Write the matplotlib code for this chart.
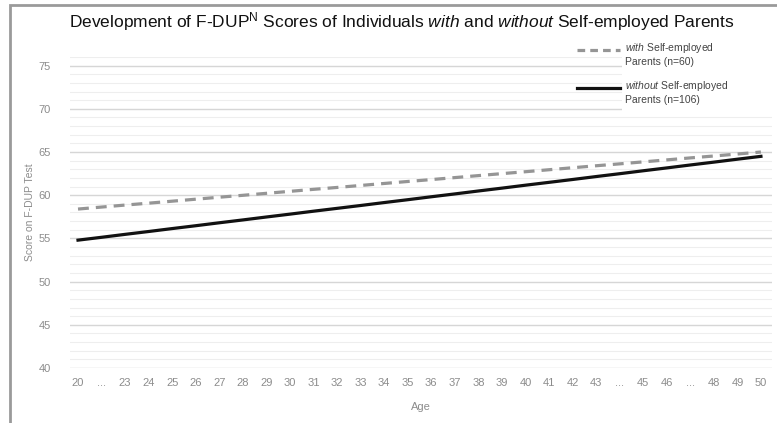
import matplotlib
matplotlib.use("Agg")
import matplotlib.pyplot as plt
from matplotlib.patches import Rectangle

plt.rcParams['font.family'] = ['Liberation Sans', 'DejaVu Sans']
plt.rcParams['mathtext.fontset'] = 'custom'
plt.rcParams['mathtext.rm'] = 'Liberation Sans'
plt.rcParams['mathtext.it'] = 'Liberation Sans:italic'

# Data
age_labels = ['20', '...', '23', '24', '25', '26', '27', '28', '29', '30', '31', '32',
              '33', '34', '35', '36', '37', '38', '39', '40', '41', '42', '43', '...',
              '45', '46', '...', '48', '49', '50']
with_scores = [58.40, 58.63, 58.86, 59.08, 59.31, 59.54, 59.77, 59.99, 60.22, 60.45,
               60.68, 60.90, 61.13, 61.36, 61.59, 61.81, 62.04, 62.27, 62.50, 62.72,
               62.95, 63.18, 63.41, 63.63, 63.86, 64.09, 64.32, 64.54, 64.77, 65.00]
without_scores = [54.80, 55.13, 55.47, 55.80, 56.14, 56.47, 56.81, 57.14, 57.48, 57.81,
                  58.15, 58.48, 58.81, 59.15, 59.48, 59.82, 60.15, 60.49, 60.82, 61.16,
                  61.49, 61.82, 62.16, 62.49, 62.83, 63.16, 63.50, 63.83, 64.17, 64.50]
y_ticks = [40, 45, 50, 55, 60, 65, 70, 75]

W, H = 777, 423
fig = plt.figure(figsize=(W / 100, H / 100), dpi=100)
ax = fig.add_axes([70 / W, 1 - 368 / H, 702 / W, 311 / H])

x = list(range(len(age_labels)))
ax.plot(x, with_scores, color='#959595', lw=2.3, ls=(0, (3.4, 2.2)), zorder=3)
ax.plot(x, without_scores, color='#111111', lw=2.3, zorder=4)

ax.set_xlim(-0.34, 29.47)
ax.set_ylim(40, 76)
ax.set_yticks(y_ticks)
ax.set_yticks(range(40, 77), minor=True)
ax.set_xticks(x)
ax.set_xticklabels(age_labels)
ax.tick_params(axis='both', which='both', length=0, labelsize=8, labelcolor='#8c8c8c')
ax.tick_params(axis='y', pad=14)
ax.tick_params(axis='x', pad=7)
ax.grid(True, axis='y', which='major', color='#d6d6d6', lw=1.0)
ax.grid(True, axis='y', which='minor', color='#eeeeee', lw=0.8)
ax.set_axisbelow(True)
for s in ax.spines.values():
    s.set_visible(False)

ax.set_xlabel('Age', fontsize=8, color='#8c8c8c', labelpad=10)
ax.set_ylabel('Score on F-DUP Test', fontsize=7.5, color='#8c8c8c', labelpad=2)

fig.text(402 / W, 1 - 22 / H,
         r'Development of F-DUP$^{\mathrm{N}}$ Scores of Individuals $\it{with}$ and $\it{without}$ Self-employed Parents',
         ha='center', va='center', fontsize=12.5, color='#111111')

# legend (drawn by hand to match the layout)
ax.add_patch(Rectangle((622 / W, 1 - 112 / H), 150 / W, 78 / H, transform=fig.transFigure,
                       facecolor='white', edgecolor='none', zorder=5))
fig.add_artist(plt.Line2D([577 / W, 620 / W], [1 - 50 / H, 1 - 50 / H], color='#959595',
                          lw=2.3, ls=(0, (2.4, 1.6))))
fig.add_artist(plt.Line2D([577 / W, 620 / W], [1 - 88 / H, 1 - 88 / H], color='#111111', lw=2.3))
fig.text(625 / W, 1 - 54 / H, '$\\it{with}$ Self-employed\nParents (n=60)', fontsize=7.5,
         color='#444444', ha='left', va='center', linespacing=1.3, zorder=6)
fig.text(625 / W, 1 - 92 / H, '$\\it{without}$ Self-employed\nParents (n=106)', fontsize=7.5,
         color='#444444', ha='left', va='center', linespacing=1.3, zorder=6)

# outer frame of the screenshot
fig.add_artist(Rectangle((10 / W, -0.1), 1.2, 1 - 5 / H + 0.1, transform=fig.transFigure,
                         facecolor='none', edgecolor='#9a9a9a', lw=2))

fig.savefig('out.png', dpi=100)
